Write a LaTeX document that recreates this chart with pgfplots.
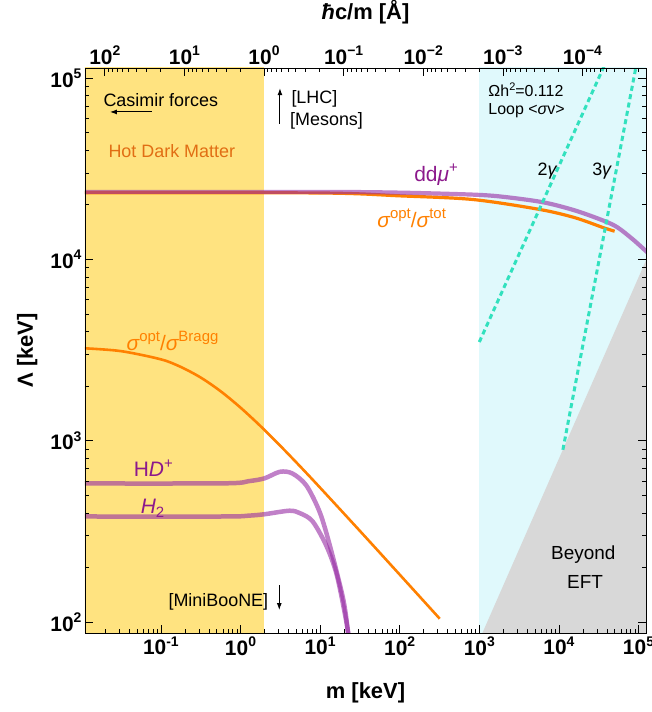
\documentclass[border=0pt]{standalone}
\usepackage{fontspec}
\setmainfont{Liberation Sans}
\usepackage{pgfplots}
\pgfplotsset{compat=1.18}
\usetikzlibrary{arrows.meta}

\definecolor{hdm}{RGB}{255,227,128}
\definecolor{cyanreg}{RGB}{224,249,252}
\definecolor{grayreg}{RGB}{216,216,216}
\definecolor{orng}{RGB}{255,128,0}
\definecolor{purp}{RGB}{150,43,163}
\definecolor{purptext}{RGB}{140,25,140}
\definecolor{hdmtext}{RGB}{225,110,20}
\definecolor{turq}{RGB}{50,225,190}

\newcommand{\ex}[1]{\raisebox{0.42em}{\fontsize{14}{14}\selectfont #1}}
\newcommand{\lx}[1]{\raisebox{0.42em}{\fontsize{15}{15}\selectfont #1}}

\begin{document}
\begin{tikzpicture}
\path[use as bounding box] (-85bp,-79bp) rectangle (567bp,633bp);
\begin{axis}[name=main, at={(0,0)}, anchor=south west,
  scale only axis, width=561bp, height=565bp,
  xmode=log, ymode=log,
  xmin=0.01113, xmax=124200, ymin=87, ymax=113600,
  axis on top, tick align=inside,
  xtick pos=left, ytick pos=both, yticklabel pos=left,
  major tick length=8bp, minor tick length=4.5bp,
  every tick/.style={black, line width=0.6bp},
  axis line style={line width=0.9bp},
  xtick={0.1,1,10,100,1000,10000,100000},
  xticklabels={10\ex{-1},10\ex{0},10\ex{1},10\ex{2},10\ex{3},10\ex{4},10\ex{5}},
  minor xtick={0.02,0.03,0.04,0.05,0.06,0.07,0.08,0.09,
    0.2,0.3,0.4,0.5,0.6,0.7,0.8,0.9,2,3,4,5,6,7,8,9,
    20,30,40,50,60,70,80,90,200,300,400,500,600,700,800,900,
    2000,3000,4000,5000,6000,7000,8000,9000,
    20000,30000,40000,50000,60000,70000,80000,90000},
  ytick={100,1000,10000,100000},
  yticklabels={10\ex{2},10\ex{3},10\ex{4},10\ex{5}},
  minor ytick={200,300,400,500,600,700,800,900,
    2000,3000,4000,5000,6000,7000,8000,9000,
    20000,30000,40000,50000,60000,70000,80000,90000},
  tick label style={font=\fontsize{21}{24}\selectfont\bfseries},
  xlabel={m [keV]}, ylabel={Λ [keV]},
  xlabel style={font=\fontsize{22}{26}\selectfont\bfseries, at={(axis description cs:0.5,-0.106)}, anchor=center},
  ylabel style={font=\fontsize{22}{26}\selectfont\bfseries, at={(axis description cs:-0.103,0.5)}, anchor=center},
]
% regions
\addplot[fill=cyanreg, draw=none] coordinates {(1000,1) (1e7,1) (1e7,1e7) (1000,1e7)} -- cycle;
\addplot[fill=hdm, draw=none] coordinates {(0.001,1) (1.97327,1) (1.97327,1e7) (0.001,1e7)} -- cycle;
\addplot[fill=grayreg, draw=none] coordinates {(1000,79.58) (200000,15915) (200000,10) (1000,10)} -- cycle;

% HD+ and H2
\addplot[purp, opacity=0.6, line width=4.5bp, smooth, tension=0.5] coordinates {
 (0.01,581) (0.631,582) (1.259,598) (2.0,620) (3.13,674) (4.47,660) (6.7,567) (9.86,405) (13.2,266) (19.4,135.5) (22.4,89) (24,70.8)};
\addplot[purp, opacity=0.6, line width=4.5bp, smooth, tension=0.5] coordinates {
 (0.01,382) (0.631,382) (1.259,386) (2.0,393) (4.13,411) (5.62,398) (8.05,359) (12.0,263) (16.2,182) (21.4,100) (22.9,79.4)};

% sigma opt / sigma Bragg
\addplot[orng, line width=2.6bp, smooth, tension=0.5] coordinates {
 (0.01096,3233) (0.0316,3118) (0.1,2810) (0.1778,2551) (0.3162,2230) (0.5623,1875) (1,1522) (1.778,1205) (3.162,937) (5.623,721) (10,550.6) (31.62,318) (100,182.6) (318.4,104.3)};

% sigma opt / sigma tot
\addplot[orng, line width=3.2bp, smooth, tension=0.5] coordinates {
 (0.01,23300) (10,23230) (100,22400) (832,21380) (5750,18840) (15850,16980) (35480,15000) (50120,14290)};

% dd mu+
\addplot[purp, opacity=0.6, line width=4.2bp, smooth, tension=0.5] coordinates {
 (0.01,23550) (10,23550) (100,23330) (832,22750) (1995,22130) (6310,20650) (15850,18620) (35480,16410) (53700,15070) (85110,12880) (131800,10840)};

% relic lines
\addplot[turq, line width=3bp, dash pattern=on 5bp off 3.5bp] coordinates {(1000,3500) (39810,125000)};
\addplot[turq, line width=3bp, dash pattern=on 5bp off 3.5bp] coordinates {(11220,891) (100000,136500)};

% annotations
\node[anchor=west, font=\fontsize{18}{20}\selectfont] at (axis cs:0.01718,75700) {Casimir forces};
\draw[-{Latex[length=7bp,width=5bp]}, line width=1bp] (axis cs:0.0773,65000) -- (axis cs:0.0229,65000);
\node[anchor=west, font=\fontsize{18}{20}\selectfont, text=hdmtext] at (axis cs:0.01986,39800) {Hot Dark Matter};
\node[anchor=west, font=\fontsize{18}{20}\selectfont] at (axis cs:3.95,76400) {[LHC]};
\node[anchor=west, font=\fontsize{18}{20}\selectfont] at (axis cs:3.80,58200) {[Mesons]};
\draw[-{Latex[length=7bp,width=5bp]}, line width=1bp] (axis cs:3.13,55900) -- (axis cs:3.13,87900);
\node[anchor=base west, font=\fontsize{16}{18}\selectfont, inner sep=0pt] at (axis cs:1297,79100) {Ωh\raisebox{0.4em}{\fontsize{11}{11}\selectfont 2}=0.112};
\node[anchor=base west, font=\fontsize{16}{18}\selectfont, inner sep=0pt] at (axis cs:1297,62950) {Loop <{\itshape σ}v>};
\node[font=\fontsize{18}{20}\selectfont] at (axis cs:7090,30500) {2{\itshape γ}};
\node[font=\fontsize{18}{20}\selectfont] at (axis cs:34500,30500) {3{\itshape γ}};
\node[font=\fontsize{21}{24}\selectfont, text=purptext] at (axis cs:286,29200) {dd{\itshape μ}\lx{+}};
\node[font=\fontsize{21}{24}\selectfont, text=orng] at (axis cs:141.5,16870) {{\itshape σ}\lx{opt}/{\itshape σ}\lx{tot}};
\node[font=\fontsize{21}{24}\selectfont, text=orng] at (axis cs:0.140,3556) {{\itshape σ}\lx{opt}/{\itshape σ}\lx{Bragg}};
\node[font=\fontsize{21}{24}\selectfont, text=purptext] at (axis cs:0.0803,705) {H{\itshape D}\lx{+}};
\node[font=\fontsize{21}{24}\selectfont, text=purptext] at (axis cs:0.0784,423.6) {{\itshape H}\raisebox{-0.2em}{\fontsize{15}{15}\selectfont 2}};
\node[anchor=east, font=\fontsize{18}{20}\selectfont] at (axis cs:2.466,129.4) {[MiniBooNE]};
\draw[-{Latex[length=7bp,width=5bp]}, line width=1bp] (axis cs:3.07,160) -- (axis cs:3.07,116.4);
\node[font=\fontsize{19}{22}\selectfont] at (axis cs:20270,236.6) {Beyond};
\node[font=\fontsize{19}{22}\selectfont] at (axis cs:21280,166.8) {EFT};
\end{axis}
\begin{axis}[at={(0,0)}, anchor=south west,
  scale only axis, width=561bp, height=565bp,
  xmode=log, x dir=reverse,
  xmin=1.5888e-5, xmax=177.29, ymin=0, ymax=1,
  tick align=inside, xtick pos=right, xticklabel pos=right,
  ytick=\empty, axis line style={draw=none},
  major tick length=8bp, minor tick length=4.5bp,
  every tick/.style={black, line width=0.6bp},
  xtick={0.0001,0.001,0.01,0.1,1,10,100},
  xticklabels={10\ex{−4},10\ex{−3},10\ex{−2},10\ex{−1},10\ex{0},10\ex{1},10\ex{2}},
  minor xtick={0.00002,0.00003,0.00004,0.00005,0.00006,0.00007,0.00008,0.00009,
    0.0002,0.0003,0.0004,0.0005,0.0006,0.0007,0.0008,0.0009,
    0.002,0.003,0.004,0.005,0.006,0.007,0.008,0.009,
    0.02,0.03,0.04,0.05,0.06,0.07,0.08,0.09,
    0.2,0.3,0.4,0.5,0.6,0.7,0.8,0.9,2,3,4,5,6,7,8,9,
    20,30,40,50,60,70,80,90},
  tick label style={font=\fontsize{21}{24}\selectfont\bfseries},
  xlabel={{\itshape ħ}c/m [Å]},
  xlabel style={font=\fontsize{22}{26}\selectfont\bfseries, at={(axis description cs:0.5,1.099)}, anchor=center},
]
\end{axis}
\end{tikzpicture}
\end{document}
